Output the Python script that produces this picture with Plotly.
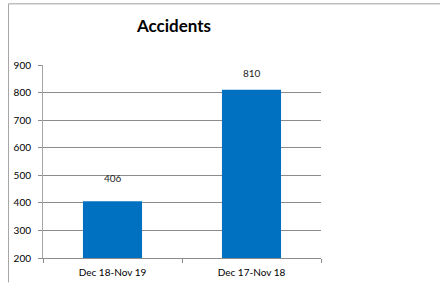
import plotly.graph_objects as go

categories = ["Dec 18-Nov 19", "Dec 17-Nov 18"]
accidents = [406, 810]
y_ticks = [200, 300, 400, 500, 600, 700, 800, 900]
title_text = "Accidents"

W, H = 440, 283
L, R, T, B = 43, 119, 64.5, 24.5
pw, ph = W - L - R, H - T - B

def px_x(x):
    return (x - L) / pw

def px_y(y):
    return 1 - (y - T) / ph

fig = go.Figure()
fig.add_trace(go.Bar(
    x=categories, y=accidents,
    marker=dict(color="#0070c0", line=dict(width=0)),
    hoverinfo="skip",
))

label_shift = [23, 17]
for c, v, s in zip(categories, accidents, label_shift):
    fig.add_annotation(x=c, y=v, text=str(v), showarrow=False,
                       yshift=s, font=dict(size=10, color="#262626", family="Lato"))

fig.update_layout(
    width=W, height=H,
    margin=dict(l=L, r=R, t=T, b=B, pad=0, autoexpand=False),
    paper_bgcolor="white", plot_bgcolor="white",
    bargap=0.575,
    showlegend=False,
    font=dict(family="Lato", size=10, color="#000000"),
    title=dict(text="<b>" + title_text + "</b>", x=174 / W, xanchor="center",
               y=1 - 26 / H, yanchor="middle",
               font=dict(size=17, family="Lato", color="#000000")),
    shapes=[
        dict(type="line", xref="paper", yref="paper",
             x0=px_x(8.5), x1=px_x(440), y0=px_y(3), y1=px_y(3),
             line=dict(color="#bfbfbf", width=1.5)),
        dict(type="line", xref="paper", yref="paper",
             x0=px_x(8.5), x1=px_x(8.5), y0=px_y(3), y1=px_y(283),
             line=dict(color="#a6a6a6", width=1)),
    ],
)
fig.update_xaxes(
    type="category", showline=True, linecolor="#8c8c8c", linewidth=1,
    ticks="outside", tickson="boundaries", ticklen=4, tickcolor="#8c8c8c",
    showgrid=False, ticklabelstandoff=5, automargin=False,
    tickfont=dict(size=10, family="Lato", color="#000000"),
)
fig.update_yaxes(
    range=[200, 900], tickvals=y_ticks, showline=True, linecolor="#a6a6a6",
    linewidth=1, ticks="outside", ticklen=4, tickcolor="#8c8c8c",
    showgrid=True, gridcolor="#8c8c8c", gridwidth=1, zeroline=False,
    ticklabelstandoff=5, automargin=False,
    tickfont=dict(size=10, family="Lato", color="#000000"),
)
fig.write_html("out.html", config={"displayModeBar": False},
               post_script="document.body.style.margin='0';document.body.style.overflow='hidden';")
